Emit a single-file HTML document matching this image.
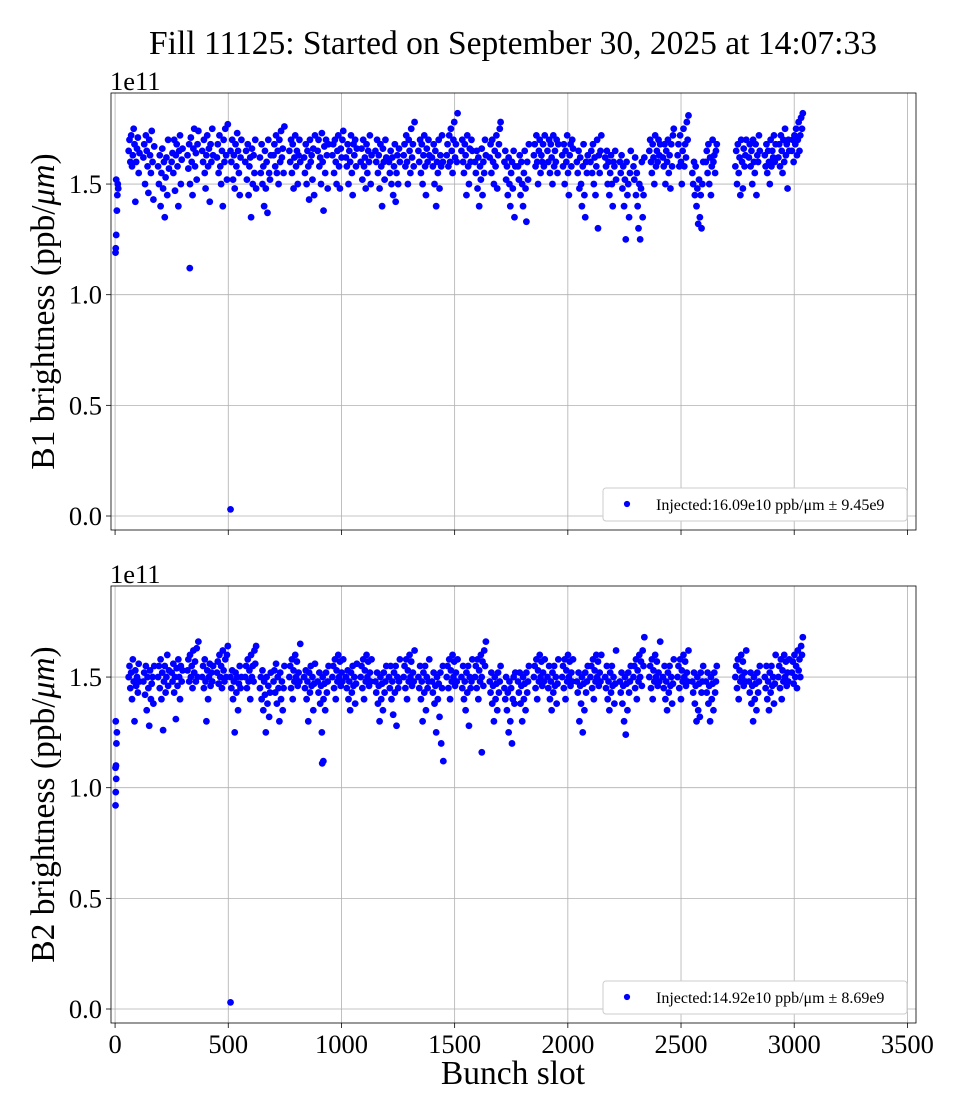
<!DOCTYPE html>
<html><head><meta charset="utf-8">
<style>
body{margin:0;background:#fff}
svg{display:block}
text{font-family:"Liberation Serif","DejaVu Serif",serif;fill:#000}
</style></head>
<body>
<svg id="chart" width="960" height="1120" viewBox="0 0 960 1120" xmlns="http://www.w3.org/2000/svg">
<text x="513" y="54" font-size="33.5" text-anchor="middle">Fill 11125: Started on September 30, 2025 at 14:07:33</text>
</svg>
<script>
// ---- data (values in units of 1e9 ppb/um, i.e. 163 = 1.63e11) ----
const trainStarts=[60,125,190,250,320,385,450,510,575,640,700,770,835,895,960,1020,1085,1150,1210,1275,1340,1400,1465,1530,1590,1655,1720,1780,1850,1910,1975,2040,2100,2165,2230,2290,2360,2420,2485,2550,2610,2740,2800,2870,2930,2990];
const b1Trains=[
[165,170,160,172,158,163,175,168,142,160,166,171,155,164],
[162,168,150,172,165,158,146,170,163,155,174,160,143,167],
[158,150,163,140,155,166,148,160,135,153,162,145,170,157],
[160,164,155,170,147,163,168,158,140,165,172,150,161,166],
[163,157,168,150,171,160,145,166,175,158,164,152,168,174],
[165,160,170,155,148,163,172,158,166,142,168,160,175,163],
[162,168,155,172,158,150,165,140,170,160,175,163,152,177],
[165,160,170,152,163,148,168,158,173,165,155,145,162,170],
[160,165,152,168,145,158,162,135,166,150,163,155,170,148],
[162,155,168,150,158,140,165,148,160,137,170,155,152,163],
[163,168,158,172,155,165,150,170,160,174,162,166,155,176],
[165,160,170,155,168,148,162,172,158,165,150,163,170,160],
[162,155,168,150,165,158,143,170,160,163,152,166,145,172],
[165,170,158,162,150,173,160,138,167,155,170,163,148,168],
[163,168,155,170,160,150,165,172,158,148,166,162,170,174],
[162,158,168,150,165,160,172,155,145,168,163,170,158,166],
[160,166,152,170,158,162,148,168,155,165,160,172,150,163],
[165,160,170,155,163,148,168,158,140,166,160,152,170,162],
[160,155,165,150,162,145,158,168,142,155,163,150,166,160],
[163,168,158,172,160,150,170,165,155,175,162,168,158,178],
[165,160,170,155,168,150,163,172,158,145,166,160,170,163],
[162,158,168,150,165,140,160,155,170,148,163,158,172,160],
[163,168,158,172,160,175,165,155,170,178,162,168,160,182],
[165,170,160,155,168,163,145,172,158,150,166,160,170,165],
[160,155,165,148,162,140,158,152,166,145,160,155,170,163],
[162,168,155,170,160,150,165,158,172,148,163,168,175,178],
[160,165,152,158,145,162,150,140,155,160,148,165,135,158],
[158,152,163,145,160,150,140,155,165,148,133,160,152,168],
[163,168,158,172,160,150,165,170,155,163,160,168,158,172],
[165,160,170,155,168,162,150,172,158,165,160,170,155,168],
[163,158,168,150,165,160,172,155,145,163,168,158,170,166],
[160,155,165,148,162,150,140,158,168,145,135,160,155,163],
[160,165,155,168,150,162,145,158,170,130,163,155,165,172],
[162,158,165,150,160,145,155,163,150,140,160,158,165,152],
[160,155,163,148,158,140,152,125,160,145,150,135,155,165],
[158,152,162,145,155,140,130,150,125,148,160,135,145,162],
[165,170,160,155,168,162,150,172,158,165,160,170,163,168],
[162,158,168,150,165,160,170,155,163,148,168,158,172,175],
[163,168,158,172,160,150,165,175,158,168,162,178,170,181],
[155,150,160,145,158,140,148,132,152,135,145,130,150,160],
[160,165,155,168,150,162,145,158,170,160,163,155,165,168],
[158,165,150,168,155,162,145,170,160,148,166,158,163,170],
[162,168,158,165,150,170,160,155,168,145,163,160,172,165],
[163,158,168,155,165,160,150,170,158,165,162,172,160,168],
[162,168,158,172,165,155,170,160,175,163,168,148,170,165],
[165,170,160,172,168,175,163,170,178,165,172,180,175,182]];
const b2Trains=[
[150,155,145,152,140,158,148,130,153,146,150,143,156,148],
[148,152,142,155,135,150,145,128,153,140,147,150,138,155],
[150,155,145,158,140,152,126,148,155,143,150,160,146,153],
[152,148,156,143,150,131,154,146,158,150,140,155,148,153],
[153,158,148,160,150,155,145,162,152,157,148,163,150,166],
[150,155,145,158,148,130,153,140,150,156,146,152,148,155],
[152,157,147,160,150,155,145,162,153,148,158,150,160,164],
[150,145,153,140,148,125,152,143,150,135,147,155,145,150],
[150,155,145,158,148,153,140,160,150,155,148,162,156,164],
[145,150,140,153,135,148,142,125,150,138,146,132,143,152],
[148,153,143,156,138,150,145,130,152,140,148,135,145,155],
[150,155,145,158,140,153,148,160,150,157,146,152,148,165],
[150,145,153,140,148,130,152,143,155,146,150,135,147,156],
[148,143,152,138,146,125,150,140,147,135,152,143,148,155],
[150,155,145,158,140,153,148,160,150,157,146,152,148,158],
[150,145,153,140,148,135,152,143,155,146,150,138,147,156],
[150,155,145,158,140,153,148,160,150,157,146,152,148,158],
[148,143,152,138,146,130,150,140,147,135,152,143,148,155],
[150,145,155,140,148,133,152,143,155,128,150,145,148,158],
[150,155,145,158,140,153,148,160,150,157,146,152,148,162],
[150,145,155,140,148,130,152,143,155,135,150,145,148,158],
[148,143,152,138,146,125,150,140,147,132,152,120,145,155],
[150,155,145,158,140,153,148,160,150,157,146,152,148,158],
[150,145,155,140,148,135,152,143,155,128,150,145,148,158],
[150,155,145,158,140,153,148,160,150,157,146,162,155,166],
[148,143,152,138,146,130,150,140,147,135,152,143,148,155],
[145,140,150,135,143,125,148,130,145,120,140,150,138,152],
[148,143,152,138,146,130,150,140,147,135,152,143,148,155],
[150,155,145,158,140,153,148,160,150,157,146,152,148,158],
[150,145,155,140,148,135,152,143,155,146,150,138,147,158],
[150,155,145,158,140,153,148,160,150,157,146,152,148,158],
[148,143,152,130,146,138,150,125,147,135,152,143,148,155],
[150,155,145,158,140,153,148,160,150,157,146,152,148,160],
[150,145,155,140,148,135,152,143,155,146,150,138,147,162],
[148,143,152,138,146,130,150,124,147,135,152,143,148,155],
[150,155,145,158,140,153,148,160,150,157,146,162,155,168],
[150,155,145,158,140,153,148,160,150,157,146,152,148,166],
[150,145,155,140,148,135,152,143,155,146,150,138,147,158],
[150,155,145,158,140,153,148,160,150,157,146,152,148,162],
[148,143,152,138,146,130,150,135,147,132,152,143,148,155],
[148,143,152,138,146,130,150,140,147,135,152,143,148,155],
[150,155,145,158,140,153,148,160,150,157,146,152,148,162],
[148,143,152,138,146,130,150,140,147,135,152,143,148,155],
[150,145,155,140,148,135,152,143,155,146,150,138,147,160],
[150,155,145,158,140,153,148,160,150,157,146,152,148,158],
[152,157,147,160,150,155,145,162,153,158,150,164,160,168]];
const b1OutX=[2,3,5,8,10,12,14,5,330,510];
const b1OutY=[119,121,127,138,145,150,148,152,112,3];
const b2OutX=[2,3,5,2,4,6,8,3,510,915,920,1450,1620];
const b2OutY=[92,98,104,109,110,120,125,130,3,111,112,112,116];
const xTicks=[0,500,1000,1500,2000,2500,3000,3500];
const yTicks=[0,50,100,150];
const yTickLabels=["0.0","0.5","1.0","1.5"];
const legendLabels=["Injected:16.09e10 ppb/\u03bcm \u00b1 9.45e9","Injected:14.92e10 ppb/\u03bcm \u00b1 8.69e9"];
const trainLen=48;

const NS="http://www.w3.org/2000/svg";
const svg=document.getElementById('chart');
function mk(tag,attrs,parent){const e=document.createElementNS(NS,tag);for(const k in attrs)e.setAttribute(k,attrs[k]);(parent||svg).appendChild(e);return e;}
const X0=111,X1=916,xMin=-18,xMax=3538;
function xs(v){return X0+(v-xMin)/(xMax-xMin)*(X1-X0);}

function panel(idx,top,trains,ox,oy,ylabel){
  const bottom=top+437;
  const y0=top+423, k=221.3/100;
  const ys=v=>y0-v*k;
  const g=mk('g',{});
  
  
  xTicks.forEach(t=>{
    const l=mk('line',{x1:xs(t),x2:xs(t),y1:top,y2:bottom,stroke:'#b0b0b0','stroke-width':0.8},g);
    
    
    const tk=mk('line',{x1:xs(t),x2:xs(t),y1:bottom,y2:bottom+5,stroke:'#000','stroke-width':0.8},g);
    
    
    if(idx===1){
      const tx=mk('text',{x:xs(t),y:bottom+30,'font-size':26.5,'text-anchor':'middle'},g);
      tx.textContent=t;
      
      
    }
  });
  yTicks.forEach((t,i)=>{
    const l=mk('line',{x1:X0,x2:X1,y1:ys(t),y2:ys(t),stroke:'#b0b0b0','stroke-width':0.8},g);
    
    
    const tk=mk('line',{x1:X0-5,x2:X0,y1:ys(t),y2:ys(t),stroke:'#000','stroke-width':0.8},g);
    
    
    const tx=mk('text',{x:X0-9,y:ys(t)+9,'font-size':26.5,'text-anchor':'end'},g);
    tx.textContent=yTickLabels[i];
    
    
  });
  const off=mk('text',{x:110,y:top-3,'font-size':26.5},g);
  off.textContent='1e11';
  
  
  const yl=mk('text',{x:0,y:0,'font-size':33.5,'text-anchor':'middle',transform:`translate(54,${(top+bottom)/2}) rotate(-90)`},g);
  yl.innerHTML=ylabel+' (ppb/<tspan font-style="italic">\u03bcm</tspan>)';
  
  
  trains.forEach((vals,ti)=>{const s=trainStarts[ti];vals.forEach((v,j)=>{
    const c=mk('circle',{cx:xs(s+j*trainLen/(vals.length-1)),cy:ys(v),r:3.4,fill:'#0000ff'},g);
    
    
  });});
  ox.forEach((x,i)=>{
    const c=mk('circle',{cx:xs(x),cy:ys(oy[i]),r:3.4,fill:'#0000ff'},g);
    
    
  });
  const fr=mk('rect',{x:X0,y:top,width:X1-X0,height:bottom-top,fill:'none',stroke:'#000','stroke-width':0.8},g);
  
  
  const lg=mk('g',{},g);
  
  
  mk('rect',{x:603,y:bottom-42,width:304,height:33,rx:3,fill:'#fff',stroke:'#ccc','stroke-width':1},lg);
  const lm=mk('circle',{cx:627,cy:bottom-26,r:3.1,fill:'#0000ff'},lg);
  
  
  const lt=mk('text',{x:656,y:bottom-20,'font-size':16},lg);
  lt.textContent=legendLabels[idx];
  
  
}
panel(0,93,b1Trains,b1OutX,b1OutY,'B1 brightness');
panel(1,586,b2Trains,b2OutX,b2OutY,'B2 brightness');
const xt=mk('text',{x:513,y:1084,'font-size':33.5,'text-anchor':'middle'});
xt.textContent='Bunch slot';


</script>
</body></html>
